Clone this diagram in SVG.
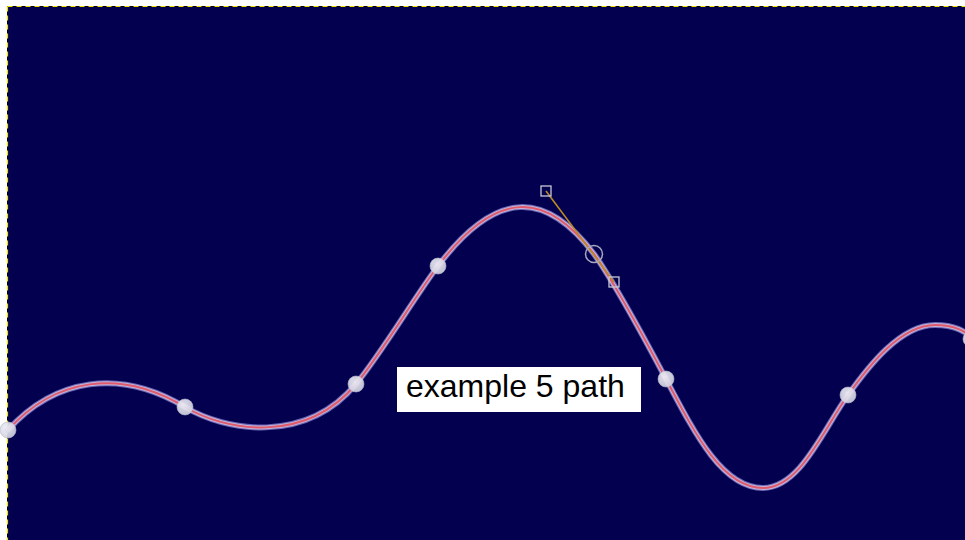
<svg xmlns="http://www.w3.org/2000/svg" width="965" height="540" viewBox="0 0 965 540">
<defs>
<radialGradient id="ng" cx="0.4" cy="0.35" r="0.7">
<stop offset="0" stop-color="#eeeef6"/>
<stop offset="1" stop-color="#cfcfdf"/>
</radialGradient>
<style>
.node{fill:url(#ng);fill-opacity:0.92;stroke:#b8b8cc;stroke-width:0.6}
.glow{fill:none;stroke:#6a64b4;stroke-width:6;stroke-linecap:round}
.outer{fill:none;stroke:#c4b4da;stroke-width:4;stroke-linecap:round}
.inner{fill:none;stroke:#e05a6c;stroke-width:2;stroke-linecap:round}
.handle{fill:none;stroke:#c8c8d4;stroke-width:1.3}
.hline{stroke:#b88a24;stroke-width:1.6}
.label{font-family:"Liberation Sans",Arial,sans-serif;font-size:32px;fill:#000}
</style>
<path id="p" d="M8,430 C55,378 120,368 185,407 C225,431 305,445 356,384 C381,354 416,295 438,266 C497,188 546,191 594,254 C614,282 648,345 666,379 C696,436 723,488 763,488 C800,488 823,430 848,395 C868,367 900,325 935,325 C955,325 965,331 975,340"/>
</defs>
<rect x="0" y="0" width="965" height="540" fill="#ffffff"/>
<rect x="7" y="6" width="970" height="540" fill="#030050"/>
<g id="page-border">
<line x1="7.5" y1="6.5" x2="965" y2="6.5" stroke="#000" stroke-width="1"/>
<line x1="7.5" y1="6.5" x2="7.5" y2="540" stroke="#000" stroke-width="1"/>
<line x1="7.5" y1="6.5" x2="965" y2="6.5" stroke="#f0e000" stroke-width="1.2" stroke-dasharray="5,4"/>
<line x1="7.5" y1="6.5" x2="7.5" y2="540" stroke="#f0e000" stroke-width="1.2" stroke-dasharray="5,4"/>
</g>
<g id="connectors">
<use href="#p" class="glow"/>
<use href="#p" class="outer"/>
<use href="#p" class="inner"/>
</g>
<g id="node-1"><circle class="node" cx="8" cy="430" r="8"/></g>
<g id="node-2"><circle class="node" cx="185" cy="407" r="8"/></g>
<g id="node-3"><circle class="node" cx="356" cy="384" r="8"/></g>
<g id="node-4"><circle class="node" cx="438" cy="266" r="8"/></g>
<g id="node-6"><circle class="node" cx="666" cy="379" r="8"/></g>
<g id="node-7"><circle class="node" cx="848" cy="395" r="8"/></g>
<g id="node-8"><circle class="node" cx="971" cy="339" r="8"/></g>
<g id="node-5">
<line id="handle-line" class="hline" x1="546" y1="191" x2="614" y2="282"/>
<circle cx="594" cy="254" r="8.5" fill="none" stroke="#a8a8c0" stroke-width="1.5"/>
<rect class="handle" x="541" y="186" width="10" height="10"/>
<rect class="handle" x="609" y="277" width="10" height="10"/>
</g>
<g id="label">
<rect x="397" y="367" width="244" height="45" fill="#ffffff"/>
<text class="label" x="406" y="397">example 5 path</text>
</g>
</svg>
